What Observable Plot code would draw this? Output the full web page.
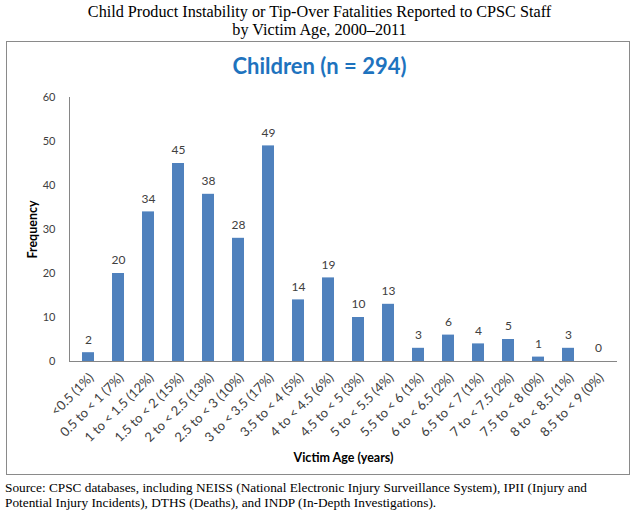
<!DOCTYPE html>
<html>
<head>
<meta charset="utf-8">
<script src="https://cdn.jsdelivr.net/npm/d3@7"></script>
<script src="https://cdn.jsdelivr.net/npm/@observablehq/plot@0.6"></script>
<style>
  html, body { margin: 0; padding: 0; background: #fff; }
  #page { position: relative; width: 639px; height: 515px; overflow: hidden; }
  #title { position: absolute; left: 0; top: 3px; width: 639px; text-align: center;
    font-family: "Liberation Serif", "Times New Roman", serif; font-size: 16.2px; line-height: 18px; color: #000; }
  #box { position: absolute; left: 6px; top: 41px; width: 622px; height: 432px; border: 1.5px solid #8a8a8a; }
  #heading { position: absolute; left: 0; top: 52px; width: 639px; text-align: center;
    font-family: Lato, "Open Sans", sans-serif; font-weight: bold; font-size: 22px; color: #1E73BE; }
  #chart { position: absolute; left: 0; top: 85px; }
  #source { position: absolute; left: 5px; top: 480px; width: 634px; white-space: nowrap;
    font-family: "Liberation Serif", "Times New Roman", serif; font-size: 13.3px; line-height: 15px; color: #000; }
</style>
</head>
<body>
<div id="page">
  <div id="title">Child Product Instability or Tip-Over Fatalities Reported to CPSC Staff<br>by Victim Age, 2000–2011</div>
  <div id="box"></div>
  <div id="heading">Children (n = 294)</div>
  <div id="chart"></div>
  <div id="source">Source: CPSC databases, including NEISS (National Electronic Injury Surveillance System), IPII (Injury and<br>Potential Injury Incidents), DTHS (Deaths), and INDP (In-Depth Investigations).</div>
</div>
<script>
const ageGroups = ["<0.5 (1%)", "0.5 to < 1 (7%)", "1 to < 1.5 (12%)", "1.5 to < 2 (15%)", "2 to < 2.5 (13%)",
  "2.5 to < 3 (10%)", "3 to < 3.5 (17%)", "3.5 to < 4 (5%)", "4 to < 4.5 (6%)", "4.5 to < 5 (3%)",
  "5 to < 5.5 (4%)", "5.5 to < 6 (1%)", "6 to < 6.5 (2%)", "6.5 to < 7 (1%)", "7 to < 7.5 (2%)",
  "7.5 to < 8 (0%)", "8 to < 8.5 (1%)", "8.5 to < 9 (0%)"];
const frequencies = [2, 20, 34, 45, 38, 28, 49, 14, 19, 10, 13, 3, 6, 4, 5, 1, 3, 0];
const yTicks = [0, 10, 20, 30, 40, 50, 60];

const data = ageGroups.map((g, i) => ({group: g, value: frequencies[i]}));
const font = "Lato, 'Open Sans', sans-serif";

const chart = Plot.plot({
  width: 639,
  height: 390,
  marginLeft: 69,
  marginRight: 22,
  marginTop: 12,
  marginBottom: 114,
  style: {fontFamily: font, fontSize: "12px", color: "#404040", background: "transparent", overflow: "visible"},
  x: {domain: ageGroups, paddingInner: 0.6, paddingOuter: 0.3, axis: null},
  y: {domain: [0, 60], axis: null},
  marks: [
    // y tick labels
    Plot.text(yTicks, {y: d => d, text: d => String(d), frameAnchor: "left", textAnchor: "end", dx: -14, fontSize: 11, fill: "#404040"}),
    // x tick labels (rotated)
    Plot.text(ageGroups, {x: d => d, text: d => d, frameAnchor: "bottom", textAnchor: "end", lineAnchor: "middle",
      rotate: -45, dx: 3, dy: 14, fontSize: 13, fill: "#404040"}),
    Plot.barY(data, {x: "group", y: "value", fill: "#4F81BD"}),
    Plot.ruleY([0], {stroke: "#868686"}),
    Plot.frame({anchor: "left", stroke: "#868686"}),
    Plot.text(data, {x: "group", y: "value", text: d => String(d.value), dy: -13, fill: "#404040", fontSize: 12}),
    Plot.text([30], {y: d => d, frameAnchor: "left", textAnchor: "middle", lineAnchor: "middle", dx: -37, rotate: -90,
      text: () => "Frequency", fontWeight: "bold", fontSize: 12.5, fill: "#000"}),
    Plot.text(["Victim Age (years)"], {frameAnchor: "bottom", textAnchor: "middle", lineAnchor: "middle", dy: 96,
      fontWeight: "bold", fontSize: 12.5, fill: "#000"})
  ]
});
document.getElementById("chart").appendChild(chart);
</script>
</body>
</html>
